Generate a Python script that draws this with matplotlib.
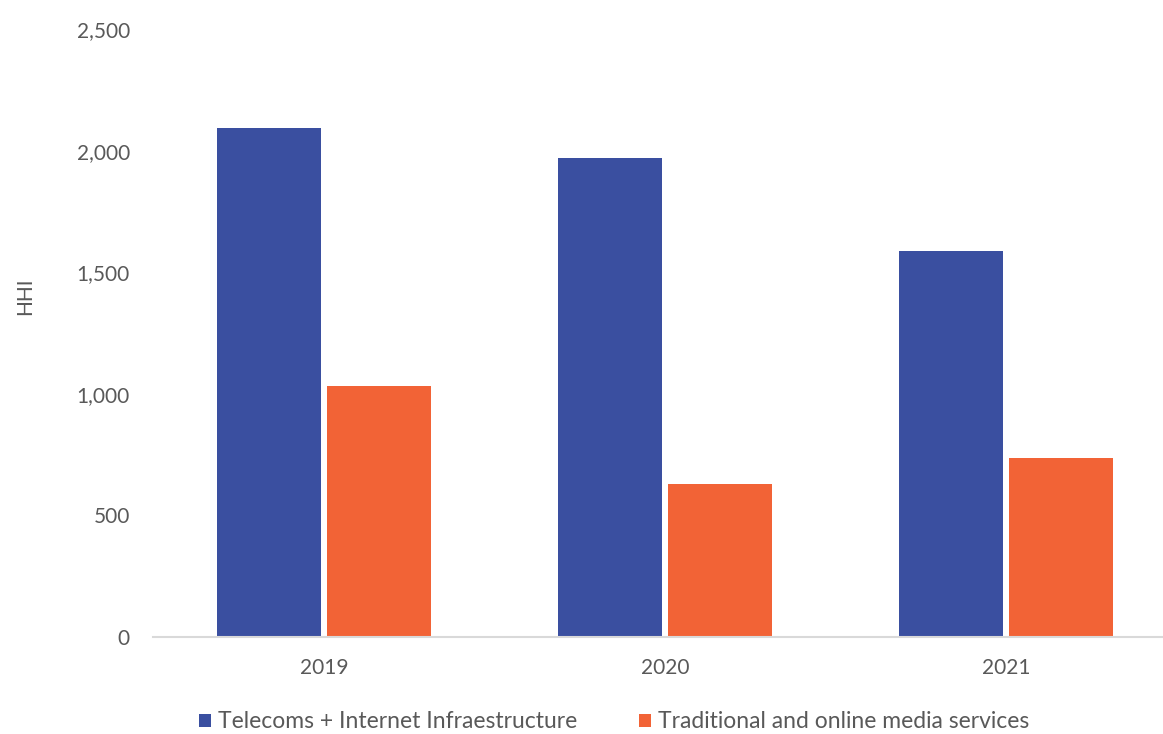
import matplotlib
matplotlib.use("Agg")
import matplotlib.pyplot as plt
import numpy as np
from matplotlib.ticker import FuncFormatter

years = ["2019", "2020", "2021"]
series_names = ["Telecoms + Internet Infraestructure", "Traditional and online media services"]
telecoms = [2092, 1968, 1586]
media = [1032, 628, 736]
colors = ["#3A4FA0", "#F26336"]

plt.rcParams['font.family'] = ['Lato', 'DejaVu Sans']

fig = plt.figure(figsize=(11.63, 7.34), dpi=100)
W, H = 1163, 734
left, right = 153.5, 1176.5
bottom, top = 637, 29
ax = fig.add_axes([left / W, 1 - bottom / H, (right - left) / W, (bottom - top) / H])

x = np.arange(len(years))
bw = 0.305
off = 0.1613
ax.bar(x - off, telecoms, width=bw, color=colors[0], label=series_names[0])
ax.bar(x + off, media, width=bw, color=colors[1], label=series_names[1])

ax.set_xlim(-0.5, len(years) - 0.5)
ax.set_ylim(0, 2500)
ax.set_yticks(np.arange(0, 2501, 500))
ax.yaxis.set_major_formatter(FuncFormatter(lambda v, p: f"{int(v):,}"))
ax.set_xticks(x)
ax.set_xticklabels(years)

for s in ["top", "right", "left"]:
    ax.spines[s].set_visible(False)
ax.spines["bottom"].set_color("#D9D9D9")
ax.spines["bottom"].set_linewidth(1.5)
ax.tick_params(axis="both", length=0, labelsize=15, colors="#595959")
ax.tick_params(axis="y", pad=17)
ax.tick_params(axis="x", pad=15)

ax.set_ylabel("HHI", fontsize=15, color="#595959")
ax.yaxis.set_label_coords(-0.1155, 0.561)

leg = fig.legend(loc="center", bbox_to_anchor=(614 / W, 1 - 722 / H), ncol=2, frameon=False,
                 fontsize=16.5, handlelength=0.52, handleheight=0.52, handletextpad=0.3,
                 columnspacing=2.7)
for t in leg.get_texts():
    t.set_color("#595959")

fig.savefig("out.png", dpi=100)
